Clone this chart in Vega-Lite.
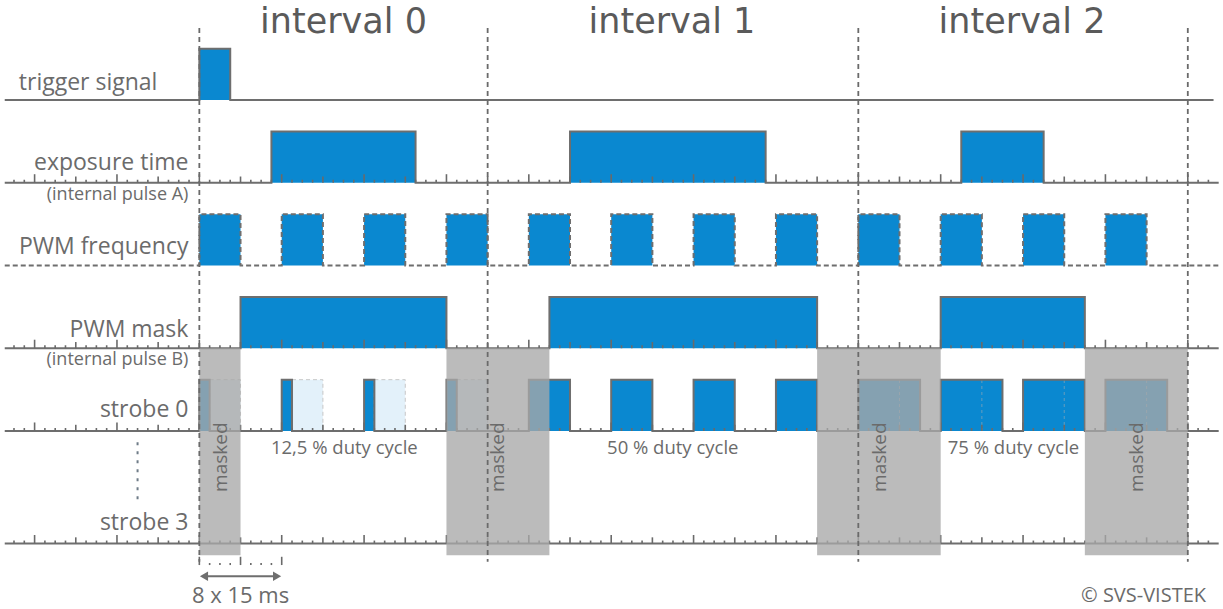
{
  "$schema": "https://vega.github.io/schema/vega-lite/v6.json",
  "width": 1223,
  "height": 609,
  "padding": 0,
  "autosize": {"type": "fit", "contains": "padding"},
  "background": "white",
  "config": {"view": {"stroke": null}, "axis": {"disable": true}},
  "datasets": {
    "wave": [
      {"s": "trigger", "t": -18.9, "v": 50}, {"s": "trigger", "t": 0, "v": 56.2}, {"s": "trigger", "t": 3, "v": 50}, {"s": "trigger", "t": 98.5, "v": 50},
      {"s": "exposure", "t": -18.9, "v": 40}, {"s": "exposure", "t": 7, "v": 46.2}, {"s": "exposure", "t": 21, "v": 40}, {"s": "exposure", "t": 36, "v": 46.2}, {"s": "exposure", "t": 55, "v": 40}, {"s": "exposure", "t": 74, "v": 46.2}, {"s": "exposure", "t": 82, "v": 40}, {"s": "exposure", "t": 99, "v": 40},
      {"s": "pwm", "t": -18.9, "v": 30}, {"s": "pwm", "t": 0, "v": 36.2}, {"s": "pwm", "t": 4, "v": 30}, {"s": "pwm", "t": 8, "v": 36.2}, {"s": "pwm", "t": 12, "v": 30}, {"s": "pwm", "t": 16, "v": 36.2}, {"s": "pwm", "t": 20, "v": 30}, {"s": "pwm", "t": 24, "v": 36.2}, {"s": "pwm", "t": 28, "v": 30}, {"s": "pwm", "t": 32, "v": 36.2}, {"s": "pwm", "t": 36, "v": 30}, {"s": "pwm", "t": 40, "v": 36.2}, {"s": "pwm", "t": 44, "v": 30}, {"s": "pwm", "t": 48, "v": 36.2}, {"s": "pwm", "t": 52, "v": 30}, {"s": "pwm", "t": 56, "v": 36.2}, {"s": "pwm", "t": 60, "v": 30}, {"s": "pwm", "t": 64, "v": 36.2}, {"s": "pwm", "t": 68, "v": 30}, {"s": "pwm", "t": 72, "v": 36.2}, {"s": "pwm", "t": 76, "v": 30}, {"s": "pwm", "t": 80, "v": 36.2}, {"s": "pwm", "t": 84, "v": 30}, {"s": "pwm", "t": 88, "v": 36.2}, {"s": "pwm", "t": 92, "v": 30}, {"s": "pwm", "t": 99, "v": 30},
      {"s": "mask", "t": -18.9, "v": 20}, {"s": "mask", "t": 4, "v": 26.2}, {"s": "mask", "t": 24, "v": 20}, {"s": "mask", "t": 34, "v": 26.2}, {"s": "mask", "t": 60, "v": 20}, {"s": "mask", "t": 72, "v": 26.2}, {"s": "mask", "t": 86, "v": 20}, {"s": "mask", "t": 99, "v": 20},
      {"s": "strobe0", "t": -18.9, "v": 10}, {"s": "strobe0", "t": 0, "v": 16.2}, {"s": "strobe0", "t": 1, "v": 10}, {"s": "strobe0", "t": 8, "v": 16.2}, {"s": "strobe0", "t": 9, "v": 10}, {"s": "strobe0", "t": 16, "v": 16.2}, {"s": "strobe0", "t": 17, "v": 10}, {"s": "strobe0", "t": 24, "v": 16.2}, {"s": "strobe0", "t": 25, "v": 10}, {"s": "strobe0", "t": 32, "v": 16.2}, {"s": "strobe0", "t": 36, "v": 10}, {"s": "strobe0", "t": 40, "v": 16.2}, {"s": "strobe0", "t": 44, "v": 10}, {"s": "strobe0", "t": 48, "v": 16.2}, {"s": "strobe0", "t": 52, "v": 10}, {"s": "strobe0", "t": 56, "v": 16.2}, {"s": "strobe0", "t": 60, "v": 10}, {"s": "strobe0", "t": 64, "v": 16.2}, {"s": "strobe0", "t": 70, "v": 10}, {"s": "strobe0", "t": 72, "v": 16.2}, {"s": "strobe0", "t": 78, "v": 10}, {"s": "strobe0", "t": 80, "v": 16.2}, {"s": "strobe0", "t": 86, "v": 10}, {"s": "strobe0", "t": 88, "v": 16.2}, {"s": "strobe0", "t": 94, "v": 10}, {"s": "strobe0", "t": 99, "v": 10},
      {"s": "strobe3", "t": -18.9, "v": -3.6}, {"s": "strobe3", "t": 99, "v": -3.6}
    ],
    "fills": [
      {"t": 0, "t2": 3, "v": 50, "v2": 56.2},
      {"t": 7, "t2": 21, "v": 40, "v2": 46.2}, {"t": 36, "t2": 55, "v": 40, "v2": 46.2}, {"t": 74, "t2": 82, "v": 40, "v2": 46.2},
      {"t": 0, "t2": 4, "v": 30, "v2": 36.2}, {"t": 8, "t2": 12, "v": 30, "v2": 36.2}, {"t": 16, "t2": 20, "v": 30, "v2": 36.2}, {"t": 24, "t2": 28, "v": 30, "v2": 36.2}, {"t": 32, "t2": 36, "v": 30, "v2": 36.2}, {"t": 40, "t2": 44, "v": 30, "v2": 36.2}, {"t": 48, "t2": 52, "v": 30, "v2": 36.2}, {"t": 56, "t2": 60, "v": 30, "v2": 36.2}, {"t": 64, "t2": 68, "v": 30, "v2": 36.2}, {"t": 72, "t2": 76, "v": 30, "v2": 36.2}, {"t": 80, "t2": 84, "v": 30, "v2": 36.2}, {"t": 88, "t2": 92, "v": 30, "v2": 36.2},
      {"t": 4, "t2": 24, "v": 20, "v2": 26.2}, {"t": 34, "t2": 60, "v": 20, "v2": 26.2}, {"t": 72, "t2": 86, "v": 20, "v2": 26.2},
      {"t": 0, "t2": 1, "v": 10, "v2": 16.2}, {"t": 8, "t2": 9, "v": 10, "v2": 16.2}, {"t": 16, "t2": 17, "v": 10, "v2": 16.2}, {"t": 24, "t2": 25, "v": 10, "v2": 16.2}, {"t": 32, "t2": 36, "v": 10, "v2": 16.2}, {"t": 40, "t2": 44, "v": 10, "v2": 16.2}, {"t": 48, "t2": 52, "v": 10, "v2": 16.2}, {"t": 56, "t2": 60, "v": 10, "v2": 16.2}, {"t": 64, "t2": 70, "v": 10, "v2": 16.2}, {"t": 72, "t2": 78, "v": 10, "v2": 16.2}, {"t": 80, "t2": 86, "v": 10, "v2": 16.2}, {"t": 88, "t2": 94, "v": 10, "v2": 16.2}
    ],
    "ghosts": [
      {"t": 1, "t2": 4, "v": 10, "v2": 16.2}, {"t": 9, "t2": 12, "v": 10, "v2": 16.2}, {"t": 17, "t2": 20, "v": 10, "v2": 16.2}, {"t": 25, "t2": 28, "v": 10, "v2": 16.2}
    ],
    "halfmarks": [
      {"t": 68, "v": 10, "v2": 16.2}, {"t": 76, "v": 10, "v2": 16.2}, {"t": 84, "v": 10, "v2": 16.2}, {"t": 92, "v": 10, "v2": 16.2}
    ],
    "masked": [
      {"t": 0, "t2": 4, "v": 20, "v2": -5.0}, {"t": 24, "t2": 34, "v": 20, "v2": -5.0}, {"t": 60, "t2": 72, "v": 20, "v2": -5.0}, {"t": 86, "t2": 96, "v": 20, "v2": -5.0}
    ],
    "intervals": [
      {"t": 0, "v": 58.7, "v2": -5.8}, {"t": 28, "v": 58.7, "v2": -5.8}, {"t": 64, "v": 58.7, "v2": -5.8}, {"t": 96, "v": 58.7, "v2": -5.8}
    ],
    "tickmarks": [
      {"t": -18, "k": "a"}, {"t": -17, "k": "a"}, {"t": -16, "k": "c"}, {"t": -15, "k": "a"}, {"t": -14, "k": "a"}, {"t": -13, "k": "a"}, {"t": -12, "k": "b"}, {"t": -11, "k": "a"}, {"t": -10, "k": "a"}, {"t": -9, "k": "a"},
      {"t": -8, "k": "c"}, {"t": -7, "k": "a"}, {"t": -6, "k": "a"}, {"t": -5, "k": "a"}, {"t": -4, "k": "b"}, {"t": -3, "k": "a"}, {"t": -2, "k": "a"}, {"t": -1, "k": "a"},
      {"t": 0, "k": "c"}, {"t": 1, "k": "a"}, {"t": 2, "k": "a"}, {"t": 3, "k": "a"}, {"t": 4, "k": "b"}, {"t": 5, "k": "a"}, {"t": 6, "k": "a"}, {"t": 7, "k": "a"},
      {"t": 8, "k": "c"}, {"t": 9, "k": "a"}, {"t": 10, "k": "a"}, {"t": 11, "k": "a"}, {"t": 12, "k": "b"}, {"t": 13, "k": "a"}, {"t": 14, "k": "a"}, {"t": 15, "k": "a"},
      {"t": 16, "k": "c"}, {"t": 17, "k": "a"}, {"t": 18, "k": "a"}, {"t": 19, "k": "a"}, {"t": 20, "k": "b"}, {"t": 21, "k": "a"}, {"t": 22, "k": "a"}, {"t": 23, "k": "a"},
      {"t": 24, "k": "c"}, {"t": 25, "k": "a"}, {"t": 26, "k": "a"}, {"t": 27, "k": "a"}, {"t": 28, "k": "b"}, {"t": 29, "k": "a"}, {"t": 30, "k": "a"}, {"t": 31, "k": "a"},
      {"t": 32, "k": "c"}, {"t": 33, "k": "a"}, {"t": 34, "k": "a"}, {"t": 35, "k": "a"}, {"t": 36, "k": "b"}, {"t": 37, "k": "a"}, {"t": 38, "k": "a"}, {"t": 39, "k": "a"},
      {"t": 40, "k": "c"}, {"t": 41, "k": "a"}, {"t": 42, "k": "a"}, {"t": 43, "k": "a"}, {"t": 44, "k": "b"}, {"t": 45, "k": "a"}, {"t": 46, "k": "a"}, {"t": 47, "k": "a"},
      {"t": 48, "k": "c"}, {"t": 49, "k": "a"}, {"t": 50, "k": "a"}, {"t": 51, "k": "a"}, {"t": 52, "k": "b"}, {"t": 53, "k": "a"}, {"t": 54, "k": "a"}, {"t": 55, "k": "a"},
      {"t": 56, "k": "c"}, {"t": 57, "k": "a"}, {"t": 58, "k": "a"}, {"t": 59, "k": "a"}, {"t": 60, "k": "b"}, {"t": 61, "k": "a"}, {"t": 62, "k": "a"}, {"t": 63, "k": "a"},
      {"t": 64, "k": "c"}, {"t": 65, "k": "a"}, {"t": 66, "k": "a"}, {"t": 67, "k": "a"}, {"t": 68, "k": "b"}, {"t": 69, "k": "a"}, {"t": 70, "k": "a"}, {"t": 71, "k": "a"},
      {"t": 72, "k": "c"}, {"t": 73, "k": "a"}, {"t": 74, "k": "a"}, {"t": 75, "k": "a"}, {"t": 76, "k": "b"}, {"t": 77, "k": "a"}, {"t": 78, "k": "a"}, {"t": 79, "k": "a"},
      {"t": 80, "k": "c"}, {"t": 81, "k": "a"}, {"t": 82, "k": "a"}, {"t": 83, "k": "a"}, {"t": 84, "k": "b"}, {"t": 85, "k": "a"}, {"t": 86, "k": "a"}, {"t": 87, "k": "a"},
      {"t": 88, "k": "c"}, {"t": 89, "k": "a"}, {"t": 90, "k": "a"}, {"t": 91, "k": "a"}, {"t": 92, "k": "b"}, {"t": 93, "k": "a"}, {"t": 94, "k": "a"}, {"t": 95, "k": "a"},
      {"t": 96, "k": "c"}, {"t": 97, "k": "a"}, {"t": 98, "k": "a"}
    ],
    "texts": [
      {"g": "title", "text": "interval 0", "t": 14.0, "v": 58.1},
      {"g": "title", "text": "interval 1", "t": 45.9, "v": 58.1},
      {"g": "title", "text": "interval 2", "t": 79.9, "v": 58.1},
      {"g": "lab", "text": "trigger signal", "t": -4.07, "v": 51.2},
      {"g": "lab", "text": "exposure time", "t": -1.06, "v": 41.54},
      {"g": "lab", "text": "PWM frequency", "t": -1.06, "v": 31.39},
      {"g": "lab", "text": "PWM mask", "t": -1.06, "v": 21.4},
      {"g": "lab", "text": "strobe 0", "t": -1.06, "v": 11.66},
      {"g": "lab", "text": "strobe 3", "t": -1.06, "v": -1.96},
      {"g": "small", "text": "(internal pulse A)", "t": -1.06, "v": 37.9},
      {"g": "small", "text": "(internal pulse B)", "t": -1.06, "v": 17.98},
      {"g": "duty", "text": "12,5 % duty cycle", "t": 14.08, "v": 7.22},
      {"g": "duty", "text": "50 % duty cycle", "t": 45.98, "v": 7.22},
      {"g": "duty", "text": "75 % duty cycle", "t": 79.07, "v": 7.22},
      {"g": "masked", "text": "masked", "t": 2.1, "v": 6.84},
      {"g": "masked", "text": "masked", "t": 29.05, "v": 6.84},
      {"g": "masked", "text": "masked", "t": 66.1, "v": 6.84},
      {"g": "masked", "text": "masked", "t": 91.1, "v": 6.84},
      {"g": "foot", "text": "8 x 15 ms", "t": 4.0, "v": -10.75},
      {"g": "copy", "text": "© SVS-VISTEK", "t": 97.77, "v": -10.63}
    ]
  },
  "encoding": {
    "x": {"field": "t", "type": "quantitative", "scale": {"domain": [-19.36, 99.03], "nice": false, "zero": false}, "axis": null}
  },
  "layer": [
    {
      "data": {"name": "fills"},
      "mark": {"type": "rect", "fill": "#0a88d0", "strokeWidth": 0},
      "encoding": {"y": {"field": "v", "type": "quantitative", "scale": {"domain": [-11.51, 62.08], "nice": false, "zero": false}, "axis": null}, "x2": {"field": "t2"}, "y2": {"field": "v2"}}
    },
    {
      "data": {"name": "ghosts"},
      "mark": {"type": "rect", "fill": "#e3f1fa", "stroke": "#c8c8c8", "strokeWidth": 1, "strokeDash": [4, 3]},
      "encoding": {"y": {"field": "v", "type": "quantitative", "scale": {"domain": [-11.51, 62.08], "nice": false, "zero": false}, "axis": null}, "x2": {"field": "t2"}, "y2": {"field": "v2"}}
    },
    {
      "data": {"name": "halfmarks"},
      "mark": {"type": "rule", "stroke": "#8fa6b6", "strokeWidth": 1, "strokeDash": [3, 3], "opacity": 0.7},
      "encoding": {"y": {"field": "v", "type": "quantitative", "scale": {"domain": [-11.51, 62.08], "nice": false, "zero": false}, "axis": null}, "y2": {"field": "v2"}}
    },
    {
      "data": {"name": "wave"},
      "transform": [{"filter": "datum.s != 'pwm'"}],
      "mark": {"type": "line", "interpolate": "step-after", "stroke": "#6e6e6e", "strokeWidth": 2},
      "encoding": {"y": {"field": "v", "type": "quantitative", "scale": {"domain": [-11.51, 62.08], "nice": false, "zero": false}, "axis": null}, "detail": {"field": "s", "type": "nominal"}}
    },
    {
      "data": {"name": "wave"},
      "transform": [{"filter": "datum.s == 'pwm'"}],
      "mark": {"type": "line", "interpolate": "step-after", "stroke": "#6e6e6e", "strokeWidth": 2, "strokeDash": [5, 3]},
      "encoding": {"y": {"field": "v", "type": "quantitative", "scale": {"domain": [-11.51, 62.08], "nice": false, "zero": false}, "axis": null}, "detail": {"field": "s", "type": "nominal"}}
    },
    {"data": {"name": "tickmarks"}, "transform": [{"filter": "datum.k == 'a'"}], "mark": {"type": "rule", "stroke": "#6a6a6a", "strokeWidth": 1.6},
      "encoding": {"y": {"datum": 40, "type": "quantitative"}, "y2": {"datum": 40.36}}},
    {"data": {"name": "tickmarks"}, "transform": [{"filter": "datum.k == 'b'"}], "mark": {"type": "rule", "stroke": "#6a6a6a", "strokeWidth": 1.6},
      "encoding": {"y": {"datum": 40, "type": "quantitative"}, "y2": {"datum": 40.75}}},
    {"data": {"name": "tickmarks"}, "transform": [{"filter": "datum.k == 'c'"}], "mark": {"type": "rule", "stroke": "#6a6a6a", "strokeWidth": 1.6},
      "encoding": {"y": {"datum": 40, "type": "quantitative"}, "y2": {"datum": 41.03}}},
    {"data": {"name": "tickmarks"}, "transform": [{"filter": "datum.k == 'a'"}], "mark": {"type": "rule", "stroke": "#6a6a6a", "strokeWidth": 1.6},
      "encoding": {"y": {"datum": 20, "type": "quantitative"}, "y2": {"datum": 20.36}}},
    {"data": {"name": "tickmarks"}, "transform": [{"filter": "datum.k == 'b'"}], "mark": {"type": "rule", "stroke": "#6a6a6a", "strokeWidth": 1.6},
      "encoding": {"y": {"datum": 20, "type": "quantitative"}, "y2": {"datum": 20.75}}},
    {"data": {"name": "tickmarks"}, "transform": [{"filter": "datum.k == 'c'"}], "mark": {"type": "rule", "stroke": "#6a6a6a", "strokeWidth": 1.6},
      "encoding": {"y": {"datum": 20, "type": "quantitative"}, "y2": {"datum": 21.03}}},
    {"data": {"name": "tickmarks"}, "transform": [{"filter": "datum.k == 'a'"}], "mark": {"type": "rule", "stroke": "#6a6a6a", "strokeWidth": 1.6},
      "encoding": {"y": {"datum": 10, "type": "quantitative"}, "y2": {"datum": 10.36}}},
    {"data": {"name": "tickmarks"}, "transform": [{"filter": "datum.k == 'b'"}], "mark": {"type": "rule", "stroke": "#6a6a6a", "strokeWidth": 1.6},
      "encoding": {"y": {"datum": 10, "type": "quantitative"}, "y2": {"datum": 10.75}}},
    {"data": {"name": "tickmarks"}, "transform": [{"filter": "datum.k == 'c'"}], "mark": {"type": "rule", "stroke": "#6a6a6a", "strokeWidth": 1.6},
      "encoding": {"y": {"datum": 10, "type": "quantitative"}, "y2": {"datum": 11.03}}},
    {"data": {"name": "tickmarks"}, "transform": [{"filter": "datum.k == 'a'"}], "mark": {"type": "rule", "stroke": "#6a6a6a", "strokeWidth": 1.6},
      "encoding": {"y": {"datum": -3.6, "type": "quantitative"}, "y2": {"datum": -3.24}}},
    {"data": {"name": "tickmarks"}, "transform": [{"filter": "datum.k == 'b'"}], "mark": {"type": "rule", "stroke": "#6a6a6a", "strokeWidth": 1.6},
      "encoding": {"y": {"datum": -3.6, "type": "quantitative"}, "y2": {"datum": -2.85}}},
    {"data": {"name": "tickmarks"}, "transform": [{"filter": "datum.k == 'c'"}], "mark": {"type": "rule", "stroke": "#6a6a6a", "strokeWidth": 1.6},
      "encoding": {"y": {"datum": -3.6, "type": "quantitative"}, "y2": {"datum": -2.57}}},
    {"data": {"name": "tickmarks"}, "transform": [{"filter": "datum.k == 'a' && datum.t >= 0 && datum.t <= 8"}], "mark": {"type": "rule", "stroke": "#6a6a6a", "strokeWidth": 1.6},
      "encoding": {"y": {"datum": -6.2, "type": "quantitative"}, "y2": {"datum": -5.95}}},
    {"data": {"name": "tickmarks"}, "transform": [{"filter": "datum.k != 'a' && datum.t >= 0 && datum.t <= 8"}], "mark": {"type": "rule", "stroke": "#6a6a6a", "strokeWidth": 1.6},
      "encoding": {"y": {"datum": -6.2, "type": "quantitative"}, "y2": {"datum": -5.2}}},
    {
      "data": {"name": "masked"},
      "mark": {"type": "rect", "fill": "#a8a8a8", "opacity": 0.78, "strokeWidth": 0},
      "encoding": {"y": {"field": "v", "type": "quantitative", "scale": {"domain": [-11.51, 62.08], "nice": false, "zero": false}, "axis": null}, "x2": {"field": "t2"}, "y2": {"field": "v2"}}
    },
    {
      "data": {"name": "intervals"},
      "mark": {"type": "rule", "stroke": "#6a6a6a", "strokeWidth": 1.8, "strokeDash": [5, 4]},
      "encoding": {"y": {"field": "v", "type": "quantitative", "scale": {"domain": [-11.51, 62.08], "nice": false, "zero": false}, "axis": null}, "y2": {"field": "v2"}}
    },
    {
      "data": {"values": [{"t": -6.0, "v": 8.64, "v2": 1.3}]},
      "mark": {"type": "rule", "stroke": "#6f7c88", "strokeWidth": 2, "strokeDash": [3, 6]},
      "encoding": {"y": {"field": "v", "type": "quantitative", "scale": {"domain": [-11.51, 62.08], "nice": false, "zero": false}, "axis": null}, "y2": {"field": "v2"}}
    },
    {
      "data": {"values": [{"t": 0.5, "t2": 7.5, "v": -7.55}]},
      "mark": {"type": "rule", "stroke": "#6e6e6e", "strokeWidth": 2},
      "encoding": {"y": {"field": "v", "type": "quantitative", "scale": {"domain": [-11.51, 62.08], "nice": false, "zero": false}, "axis": null}, "x2": {"field": "t2"}}
    },
    {
      "data": {"values": [{"t": 0.45, "v": -7.55, "d": "l"}, {"t": 7.55, "v": -7.55, "d": "r"}]},
      "mark": {"type": "point", "filled": true, "color": "#6e6e6e", "opacity": 1, "size": 90},
      "encoding": {
        "y": {"field": "v", "type": "quantitative", "scale": {"domain": [-11.51, 62.08], "nice": false, "zero": false}, "axis": null},
        "shape": {"field": "d", "type": "nominal", "scale": {"domain": ["l", "r"], "range": ["triangle-left", "triangle-right"]}, "legend": null}
      }
    },
    {
      "data": {"name": "texts"},
      "transform": [{"filter": "datum.g == 'title'"}],
      "mark": {"type": "text", "font": "DejaVu Sans", "fontSize": 35, "color": "#5a5a5a", "align": "center", "baseline": "alphabetic"},
      "encoding": {"y": {"field": "v", "type": "quantitative", "scale": {"domain": [-11.51, 62.08], "nice": false, "zero": false}, "axis": null}, "text": {"field": "text"}}
    },
    {
      "data": {"name": "texts"},
      "transform": [{"filter": "datum.g == 'lab'"}],
      "mark": {"type": "text", "font": "Open Sans", "fontSize": 23, "color": "#6b6b6b", "align": "right", "baseline": "alphabetic"},
      "encoding": {"y": {"field": "v", "type": "quantitative", "scale": {"domain": [-11.51, 62.08], "nice": false, "zero": false}, "axis": null}, "text": {"field": "text"}}
    },
    {
      "data": {"name": "texts"},
      "transform": [{"filter": "datum.g == 'small'"}],
      "mark": {"type": "text", "font": "Open Sans", "fontSize": 18, "color": "#6b6b6b", "align": "right", "baseline": "alphabetic"},
      "encoding": {"y": {"field": "v", "type": "quantitative", "scale": {"domain": [-11.51, 62.08], "nice": false, "zero": false}, "axis": null}, "text": {"field": "text"}}
    },
    {
      "data": {"name": "texts"},
      "transform": [{"filter": "datum.g == 'duty'"}],
      "mark": {"type": "text", "font": "Open Sans", "fontSize": 18.5, "color": "#6b6b6b", "align": "center", "baseline": "alphabetic"},
      "encoding": {"y": {"field": "v", "type": "quantitative", "scale": {"domain": [-11.51, 62.08], "nice": false, "zero": false}, "axis": null}, "text": {"field": "text"}}
    },
    {
      "data": {"name": "texts"},
      "transform": [{"filter": "datum.g == 'masked'"}],
      "mark": {"type": "text", "font": "Open Sans", "fontSize": 19, "color": "#6b6b6b", "align": "center", "baseline": "middle", "angle": 270},
      "encoding": {"y": {"field": "v", "type": "quantitative", "scale": {"domain": [-11.51, 62.08], "nice": false, "zero": false}, "axis": null}, "text": {"field": "text"}}
    },
    {
      "data": {"name": "texts"},
      "transform": [{"filter": "datum.g == 'foot'"}],
      "mark": {"type": "text", "font": "Open Sans", "fontSize": 22, "color": "#6b6b6b", "align": "center", "baseline": "alphabetic"},
      "encoding": {"y": {"field": "v", "type": "quantitative", "scale": {"domain": [-11.51, 62.08], "nice": false, "zero": false}, "axis": null}, "text": {"field": "text"}}
    },
    {
      "data": {"name": "texts"},
      "transform": [{"filter": "datum.g == 'copy'"}],
      "mark": {"type": "text", "font": "Open Sans", "fontSize": 20, "color": "#6b6b6b", "align": "right", "baseline": "alphabetic"},
      "encoding": {"y": {"field": "v", "type": "quantitative", "scale": {"domain": [-11.51, 62.08], "nice": false, "zero": false}, "axis": null}, "text": {"field": "text"}}
    }
  ]
}
